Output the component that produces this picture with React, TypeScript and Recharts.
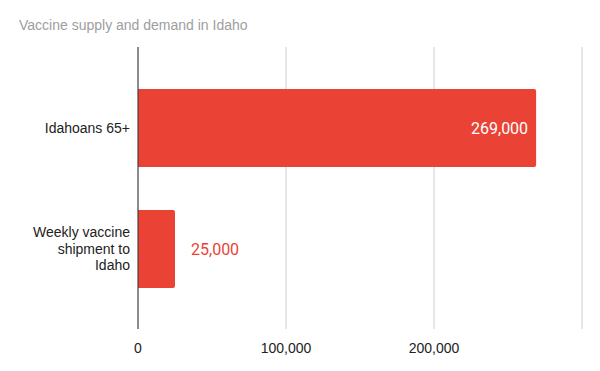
import { BarChart, Bar, XAxis, YAxis, CartesianGrid, LabelList } from "recharts";

const categories = ["Idahoans 65+", "Weekly vaccine shipment to Idaho"];
const people = [269000, 25000];
const xTicks = [0, 100000, 200000, 300000];

const data = categories.map((name, i) => ({ name, value: people[i] }));

const RED = "#ea4335";
const SANS = "Arial, 'Liberation Sans', sans-serif";

function wrap(label: string, maxChars: number) {
  const lines: string[] = [];
  let cur = "";
  label.split(" ").forEach((w) => {
    const next = cur ? cur + " " + w : w;
    if (next.length > maxChars && cur) {
      lines.push(cur);
      cur = w;
    } else {
      cur = next;
    }
  });
  if (cur) lines.push(cur);
  return lines;
}

function CategoryTick(props: any) {
  const { x, y, payload } = props;
  const lines = wrap(String(payload.value), 14);
  const lh = 16.7;
  const start = y - ((lines.length - 1) * lh) / 2;
  return (
    <text
      x={x}
      y={start}
      textAnchor="end"
      dominantBaseline="central"
      fontSize={14}
      fill="#222"
      fontFamily={SANS}
    >
      {lines.map((l, i) => (
        <tspan key={i} x={x} y={start + i * lh}>
          {l}
        </tspan>
      ))}
    </text>
  );
}

function ValueLabel(props: any) {
  const { x, y, width, height, value } = props;
  const text = Number(value).toLocaleString("en-US");
  const inside = width > 100;
  return (
    <text
      x={inside ? x + width - 8 : x + width + 16}
      y={y + height / 2}
      textAnchor={inside ? "end" : "start"}
      dominantBaseline="central"
      fontSize={16}
      fill={inside ? "#fff" : RED}
      fontFamily="Roboto"
    >
      {text}
    </text>
  );
}

export default function App() {
  return (
    <div
      style={{
        position: "absolute",
        left: 0,
        top: 0,
        width: 600,
        height: 371,
        background: "#fff",
        fontFamily: SANS,
      }}
    >
      <div
        style={{
          position: "absolute",
          left: 19,
          top: 17,
          fontSize: 14,
          color: "#9e9e9e",
          whiteSpace: "nowrap",
        }}
      >
        Vaccine supply and demand in Idaho
      </div>
      <BarChart
        width={600}
        height={371}
        data={data}
        layout="vertical"
        margin={{ top: 47, right: 18, bottom: 12, left: 0 }}
      >
        <CartesianGrid horizontal={false} stroke="#cccccc" />
        <XAxis
          type="number"
          domain={[0, 300000]}
          ticks={xTicks}
          tickFormatter={(v: number) => (v === 300000 ? "" : v.toLocaleString("en-US"))}
          axisLine={false}
          tickLine={false}
          tick={{ fontSize: 14, fill: "#222", fontFamily: SANS }}
          tickMargin={8}
          height={30}
        />
        <YAxis
          type="category"
          dataKey="name"
          width={138}
          padding={{ top: 20, bottom: 20 }}
          axisLine={{ stroke: "#333" }}
          tickLine={false}
          tick={<CategoryTick />}
        />
        <Bar dataKey="value" fill={RED} barSize={78} radius={[0, 2, 2, 0]} isAnimationActive={false}>
          <LabelList dataKey="value" content={<ValueLabel />} />
        </Bar>
      </BarChart>
    </div>
  );
}
